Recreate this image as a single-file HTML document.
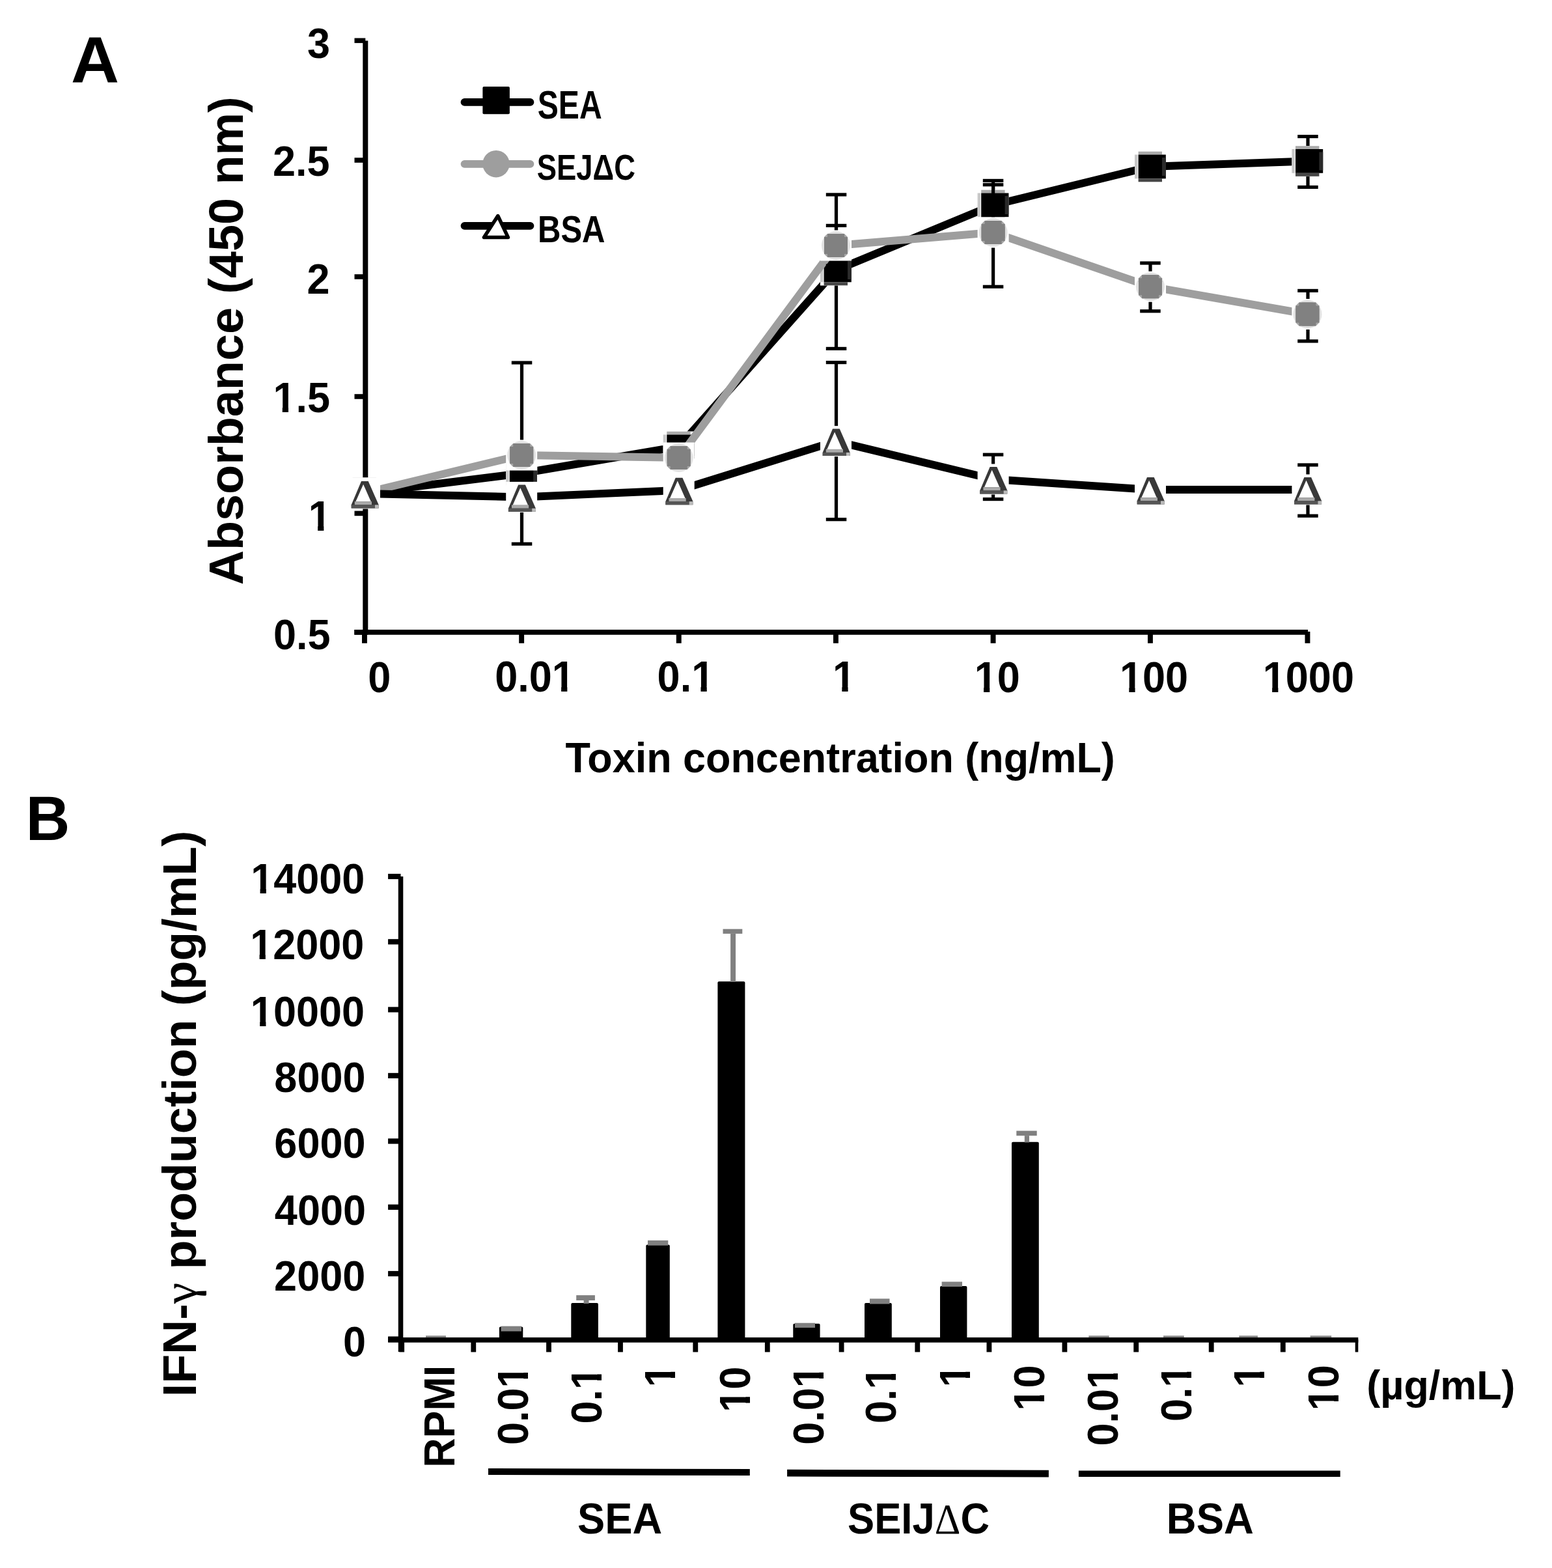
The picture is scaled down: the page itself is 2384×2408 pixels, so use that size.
<!DOCTYPE html>
<html><head><meta charset="utf-8"><title>Figure</title>
<style>html,body{margin:0;padding:0;background:#fff;}svg{display:block;}</style>
</head><body>
<svg width="2384" height="2408" viewBox="0 0 2384 2408">
<rect x="0" y="0" width="2384" height="2408" fill="#fff"/>
<defs><clipPath id="cya15" clipPathUnits="userSpaceOnUse"><path d="M-3000,-3000H3000V3000H-3000Z M-85.05,-7.43H-73.23V1.89H-85.05Z M-63.99,-7.43H-53.24V1.89H-63.99Z" clip-rule="evenodd"/></clipPath><clipPath id="cya1" clipPathUnits="userSpaceOnUse"><path d="M-3000,-3000H3000V3000H-3000Z M-32.51,-7.43H-20.69V1.89H-32.51Z M-11.44,-7.43H-0.69V1.89H-11.44Z" clip-rule="evenodd"/></clipPath><clipPath id="cxa001" clipPathUnits="userSpaceOnUse"><path d="M-3000,-3000H3000V3000H-3000Z M90.09,-7.43H101.91V1.89H90.09Z M111.15,-7.43H121.91V1.89H111.15Z" clip-rule="evenodd"/></clipPath><clipPath id="cxa01" clipPathUnits="userSpaceOnUse"><path d="M-3000,-3000H3000V3000H-3000Z M55.06,-7.43H66.88V1.89H55.06Z M76.13,-7.43H86.88V1.89H76.13Z" clip-rule="evenodd"/></clipPath><clipPath id="cxa1" clipPathUnits="userSpaceOnUse"><path d="M-3000,-3000H3000V3000H-3000Z M2.52,-7.43H14.34V1.89H2.52Z M23.58,-7.43H34.34V1.89H23.58Z" clip-rule="evenodd"/></clipPath><clipPath id="cxa10" clipPathUnits="userSpaceOnUse"><path d="M-3000,-3000H3000V3000H-3000Z M2.52,-7.43H14.34V1.89H2.52Z M23.58,-7.43H34.34V1.89H23.58Z" clip-rule="evenodd"/></clipPath><clipPath id="cxa100" clipPathUnits="userSpaceOnUse"><path d="M-3000,-3000H3000V3000H-3000Z M2.52,-7.43H14.34V1.89H2.52Z M23.58,-7.43H34.34V1.89H23.58Z" clip-rule="evenodd"/></clipPath><clipPath id="cxa1000" clipPathUnits="userSpaceOnUse"><path d="M-3000,-3000H3000V3000H-3000Z M2.52,-7.43H14.34V1.89H2.52Z M23.58,-7.43H34.34V1.89H23.58Z" clip-rule="evenodd"/></clipPath><clipPath id="cyb14" clipPathUnits="userSpaceOnUse"><path d="M-3000,-3000H3000V3000H-3000Z M-172.62,-7.43H-160.80V1.89H-172.62Z M-151.56,-7.43H-140.81V1.89H-151.56Z" clip-rule="evenodd"/></clipPath><clipPath id="cyb12" clipPathUnits="userSpaceOnUse"><path d="M-3000,-3000H3000V3000H-3000Z M-172.62,-7.43H-160.80V1.89H-172.62Z M-151.56,-7.43H-140.81V1.89H-151.56Z" clip-rule="evenodd"/></clipPath><clipPath id="cyb10" clipPathUnits="userSpaceOnUse"><path d="M-3000,-3000H3000V3000H-3000Z M-172.62,-7.43H-160.80V1.89H-172.62Z M-151.56,-7.43H-140.81V1.89H-151.56Z" clip-rule="evenodd"/></clipPath><clipPath id="crlSEA001" clipPathUnits="userSpaceOnUse"><path d="M-3000,-3000H3000V3000H-3000Z M-32.51,-7.43H-20.69V1.89H-32.51Z M-11.44,-7.43H-0.69V1.89H-11.44Z" clip-rule="evenodd"/></clipPath><clipPath id="crlSEA01" clipPathUnits="userSpaceOnUse"><path d="M-3000,-3000H3000V3000H-3000Z M-32.51,-7.43H-20.69V1.89H-32.51Z M-11.44,-7.43H-0.69V1.89H-11.44Z" clip-rule="evenodd"/></clipPath><clipPath id="crlSEA1" clipPathUnits="userSpaceOnUse"><path d="M-3000,-3000H3000V3000H-3000Z M-32.51,-7.43H-20.69V1.89H-32.51Z M-11.44,-7.43H-0.69V1.89H-11.44Z" clip-rule="evenodd"/></clipPath><clipPath id="crlSEA10" clipPathUnits="userSpaceOnUse"><path d="M-3000,-3000H3000V3000H-3000Z M-67.54,-7.43H-55.71V1.89H-67.54Z M-46.47,-7.43H-35.72V1.89H-46.47Z" clip-rule="evenodd"/></clipPath><clipPath id="crlSEI001" clipPathUnits="userSpaceOnUse"><path d="M-3000,-3000H3000V3000H-3000Z M-32.51,-7.43H-20.69V1.89H-32.51Z M-11.44,-7.43H-0.69V1.89H-11.44Z" clip-rule="evenodd"/></clipPath><clipPath id="crlSEI01" clipPathUnits="userSpaceOnUse"><path d="M-3000,-3000H3000V3000H-3000Z M-32.51,-7.43H-20.69V1.89H-32.51Z M-11.44,-7.43H-0.69V1.89H-11.44Z" clip-rule="evenodd"/></clipPath><clipPath id="crlSEI1" clipPathUnits="userSpaceOnUse"><path d="M-3000,-3000H3000V3000H-3000Z M-32.51,-7.43H-20.69V1.89H-32.51Z M-11.44,-7.43H-0.69V1.89H-11.44Z" clip-rule="evenodd"/></clipPath><clipPath id="crlSEI10" clipPathUnits="userSpaceOnUse"><path d="M-3000,-3000H3000V3000H-3000Z M-67.54,-7.43H-55.71V1.89H-67.54Z M-46.47,-7.43H-35.72V1.89H-46.47Z" clip-rule="evenodd"/></clipPath><clipPath id="crlBSA001" clipPathUnits="userSpaceOnUse"><path d="M-3000,-3000H3000V3000H-3000Z M-32.51,-7.43H-20.69V1.89H-32.51Z M-11.44,-7.43H-0.69V1.89H-11.44Z" clip-rule="evenodd"/></clipPath><clipPath id="crlBSA01" clipPathUnits="userSpaceOnUse"><path d="M-3000,-3000H3000V3000H-3000Z M-32.51,-7.43H-20.69V1.89H-32.51Z M-11.44,-7.43H-0.69V1.89H-11.44Z" clip-rule="evenodd"/></clipPath><clipPath id="crlBSA1" clipPathUnits="userSpaceOnUse"><path d="M-3000,-3000H3000V3000H-3000Z M-32.51,-7.43H-20.69V1.89H-32.51Z M-11.44,-7.43H-0.69V1.89H-11.44Z" clip-rule="evenodd"/></clipPath><clipPath id="crlBSA10" clipPathUnits="userSpaceOnUse"><path d="M-3000,-3000H3000V3000H-3000Z M-67.54,-7.43H-55.71V1.89H-67.54Z M-46.47,-7.43H-35.72V1.89H-46.47Z" clip-rule="evenodd"/></clipPath></defs>
<rect x="557.3" y="62.5" width="8.0" height="912.5" fill="#000"/>
<rect x="544.5" y="58.5" width="16.8" height="7.6" fill="#000"/>
<rect x="544.5" y="242.2" width="16.8" height="7.6" fill="#000"/>
<rect x="544.5" y="421.2" width="16.8" height="7.6" fill="#000"/>
<rect x="544.5" y="605.2" width="16.8" height="7.6" fill="#000"/>
<rect x="544.5" y="784.6" width="16.8" height="7.6" fill="#000"/>
<rect x="544.5" y="967.2" width="16.8" height="7.6" fill="#000"/>
<rect x="544.3" y="967.0" width="1464.7" height="7.8" fill="#000"/>
<rect x="556.0" y="970.0" width="7.9" height="17.8" fill="#000"/>
<rect x="797.2" y="970.0" width="7.9" height="17.8" fill="#000"/>
<rect x="1038.8" y="970.0" width="7.9" height="17.8" fill="#000"/>
<rect x="1280.0" y="970.0" width="7.9" height="17.8" fill="#000"/>
<rect x="1521.6" y="970.0" width="7.9" height="17.8" fill="#000"/>
<rect x="1763.0" y="970.0" width="7.9" height="17.8" fill="#000"/>
<rect x="2004.5" y="970.0" width="7.9" height="17.8" fill="#000"/>
<polyline points="560.0,757.0 801.2,727.0 1042.7,686.0 1284.0,415.0 1525.6,315.0 1767.0,256.0 2008.4,247.5" fill="none" stroke="#000" stroke-width="12" stroke-linejoin="round"/>
<rect x="1281.9" y="298.9" width="5.2" height="236.5" fill="#000"/>
<rect x="1268.8" y="296.3" width="31.5" height="5.2" fill="#000"/>
<rect x="1268.8" y="532.8" width="31.5" height="5.2" fill="#000"/>
<rect x="1523.0" y="277.4" width="5.2" height="75.2" fill="#000"/>
<rect x="1509.8" y="274.8" width="31.5" height="5.2" fill="#000"/>
<rect x="1509.8" y="350.0" width="31.5" height="5.2" fill="#000"/>
<rect x="2006.4" y="209.6" width="5.2" height="77.8" fill="#000"/>
<rect x="1993.2" y="207.0" width="31.5" height="5.2" fill="#000"/>
<rect x="1993.2" y="284.8" width="31.5" height="5.2" fill="#000"/>
<rect x="536.0" y="733.5" width="48.0" height="47.0" fill="#fff"/>
<rect x="541.6" y="733.7" width="36.4" height="4.8" fill="#ababab"/>
<rect x="536.0" y="738.5" width="4.5" height="36.8" fill="#c8c8c8"/>
<rect x="541.6" y="738.5" width="42.2" height="36.8" fill="#000"/>
<rect x="578.0" y="743.0" width="5.8" height="28.0" fill="#2a2a2a"/>
<rect x="541.6" y="775.3" width="36.4" height="5.0" fill="#474747"/>
<rect x="777.2" y="703.5" width="48.0" height="47.0" fill="#fff"/>
<rect x="782.8" y="703.7" width="36.4" height="4.8" fill="#ababab"/>
<rect x="777.2" y="708.5" width="4.5" height="36.8" fill="#c8c8c8"/>
<rect x="782.8" y="708.5" width="42.2" height="36.8" fill="#000"/>
<rect x="819.2" y="713.0" width="5.8" height="28.0" fill="#2a2a2a"/>
<rect x="782.8" y="745.3" width="36.4" height="5.0" fill="#474747"/>
<rect x="1018.7" y="662.5" width="48.0" height="47.0" fill="#fff"/>
<rect x="1024.3" y="662.7" width="36.4" height="4.8" fill="#ababab"/>
<rect x="1018.7" y="667.5" width="4.5" height="36.8" fill="#c8c8c8"/>
<rect x="1024.3" y="667.5" width="42.2" height="36.8" fill="#000"/>
<rect x="1060.7" y="672.0" width="5.8" height="28.0" fill="#2a2a2a"/>
<rect x="1024.3" y="704.3" width="36.4" height="5.0" fill="#474747"/>
<rect x="1260.0" y="391.5" width="48.0" height="47.0" fill="#fff"/>
<rect x="1265.6" y="391.7" width="36.4" height="4.8" fill="#ababab"/>
<rect x="1260.0" y="396.5" width="4.5" height="36.8" fill="#c8c8c8"/>
<rect x="1265.6" y="396.5" width="42.2" height="36.8" fill="#000"/>
<rect x="1302.0" y="401.0" width="5.8" height="28.0" fill="#2a2a2a"/>
<rect x="1265.6" y="433.3" width="36.4" height="5.0" fill="#474747"/>
<rect x="1501.6" y="291.5" width="48.0" height="47.0" fill="#fff"/>
<rect x="1507.2" y="291.7" width="36.4" height="4.8" fill="#ababab"/>
<rect x="1501.6" y="296.5" width="4.5" height="36.8" fill="#c8c8c8"/>
<rect x="1507.2" y="296.5" width="42.2" height="36.8" fill="#000"/>
<rect x="1543.6" y="301.0" width="5.8" height="28.0" fill="#2a2a2a"/>
<rect x="1507.2" y="333.3" width="36.4" height="5.0" fill="#474747"/>
<rect x="1743.0" y="232.5" width="48.0" height="47.0" fill="#fff"/>
<rect x="1748.6" y="232.7" width="36.4" height="4.8" fill="#ababab"/>
<rect x="1743.0" y="237.5" width="4.5" height="36.8" fill="#c8c8c8"/>
<rect x="1748.6" y="237.5" width="42.2" height="36.8" fill="#000"/>
<rect x="1785.0" y="242.0" width="5.8" height="28.0" fill="#2a2a2a"/>
<rect x="1748.6" y="274.3" width="36.4" height="5.0" fill="#474747"/>
<rect x="1984.4" y="224.0" width="48.0" height="47.0" fill="#fff"/>
<rect x="1990.0" y="224.2" width="36.4" height="4.8" fill="#ababab"/>
<rect x="1984.4" y="229.0" width="4.5" height="36.8" fill="#c8c8c8"/>
<rect x="1990.0" y="229.0" width="42.2" height="36.8" fill="#000"/>
<rect x="2026.4" y="233.5" width="5.8" height="28.0" fill="#2a2a2a"/>
<rect x="1990.0" y="265.8" width="36.4" height="5.0" fill="#474747"/>
<polyline points="560.0,757.0 801.2,699.0 1042.7,703.0 1284.0,377.0 1525.6,357.0 1767.0,440.2 2008.4,482.5" fill="none" stroke="#9e9e9e" stroke-width="12" stroke-linejoin="round"/>
<rect x="798.9" y="557.0" width="5.2" height="278.3" fill="#000"/>
<rect x="785.8" y="554.4" width="31.5" height="5.2" fill="#000"/>
<rect x="785.8" y="832.7" width="31.5" height="5.2" fill="#000"/>
<rect x="1281.9" y="346.4" width="5.2" height="61.6" fill="#000"/>
<rect x="1268.8" y="343.8" width="31.5" height="5.2" fill="#000"/>
<rect x="1268.8" y="405.4" width="31.5" height="5.2" fill="#000"/>
<rect x="1523.0" y="283.7" width="5.2" height="156.6" fill="#000"/>
<rect x="1509.8" y="281.1" width="31.5" height="5.2" fill="#000"/>
<rect x="1509.8" y="437.7" width="31.5" height="5.2" fill="#000"/>
<rect x="1764.4" y="404.0" width="5.2" height="73.8" fill="#000"/>
<rect x="1751.2" y="401.4" width="31.5" height="5.2" fill="#000"/>
<rect x="1751.2" y="475.2" width="31.5" height="5.2" fill="#000"/>
<rect x="2006.4" y="446.4" width="5.2" height="77.5" fill="#000"/>
<rect x="1993.2" y="443.8" width="31.5" height="5.2" fill="#000"/>
<rect x="1993.2" y="521.3" width="31.5" height="5.2" fill="#000"/>
<rect x="536.0" y="733.5" width="48.0" height="47.0" fill="#fff"/>
<circle cx="560.0" cy="757.0" r="22" fill="#e2e2e2"/>
<polygon points="547.0,739.0 573.0,739.0 578.0,744.0 578.0,770.0 573.0,775.0 547.0,775.0 542.0,770.0 542.0,744.0" fill="#a6a6a6"/>
<polygon points="552.0,739.0 568.0,739.0 573.0,744.0 578.0,749.0 578.0,765.0 573.0,770.0 568.0,775.0 552.0,775.0 547.0,770.0 542.0,765.0 542.0,749.0 547.0,744.0" fill="#818181"/>
<rect x="547.0" y="739.0" width="26" height="36" fill="#818181"/>
<rect x="542.0" y="744.0" width="36" height="26" fill="#818181"/>
<rect x="777.2" y="675.5" width="48.0" height="47.0" fill="#fff"/>
<circle cx="801.2" cy="699.0" r="22" fill="#e2e2e2"/>
<polygon points="788.2,681.0 814.2,681.0 819.2,686.0 819.2,712.0 814.2,717.0 788.2,717.0 783.2,712.0 783.2,686.0" fill="#a6a6a6"/>
<polygon points="793.2,681.0 809.2,681.0 814.2,686.0 819.2,691.0 819.2,707.0 814.2,712.0 809.2,717.0 793.2,717.0 788.2,712.0 783.2,707.0 783.2,691.0 788.2,686.0" fill="#818181"/>
<rect x="788.2" y="681.0" width="26" height="36" fill="#818181"/>
<rect x="783.2" y="686.0" width="36" height="26" fill="#818181"/>
<rect x="1018.7" y="679.5" width="48.0" height="47.0" fill="#fff"/>
<circle cx="1042.7" cy="703.0" r="22" fill="#e2e2e2"/>
<polygon points="1029.7,685.0 1055.7,685.0 1060.7,690.0 1060.7,716.0 1055.7,721.0 1029.7,721.0 1024.7,716.0 1024.7,690.0" fill="#a6a6a6"/>
<polygon points="1034.7,685.0 1050.7,685.0 1055.7,690.0 1060.7,695.0 1060.7,711.0 1055.7,716.0 1050.7,721.0 1034.7,721.0 1029.7,716.0 1024.7,711.0 1024.7,695.0 1029.7,690.0" fill="#818181"/>
<rect x="1029.7" y="685.0" width="26" height="36" fill="#818181"/>
<rect x="1024.7" y="690.0" width="36" height="26" fill="#818181"/>
<rect x="1260.0" y="353.5" width="48.0" height="47.0" fill="#fff"/>
<circle cx="1284.0" cy="377.0" r="22" fill="#e2e2e2"/>
<polygon points="1271.0,359.0 1297.0,359.0 1302.0,364.0 1302.0,390.0 1297.0,395.0 1271.0,395.0 1266.0,390.0 1266.0,364.0" fill="#a6a6a6"/>
<polygon points="1276.0,359.0 1292.0,359.0 1297.0,364.0 1302.0,369.0 1302.0,385.0 1297.0,390.0 1292.0,395.0 1276.0,395.0 1271.0,390.0 1266.0,385.0 1266.0,369.0 1271.0,364.0" fill="#818181"/>
<rect x="1271.0" y="359.0" width="26" height="36" fill="#818181"/>
<rect x="1266.0" y="364.0" width="36" height="26" fill="#818181"/>
<rect x="1501.6" y="333.5" width="48.0" height="47.0" fill="#fff"/>
<circle cx="1525.6" cy="357.0" r="22" fill="#e2e2e2"/>
<polygon points="1512.6,339.0 1538.6,339.0 1543.6,344.0 1543.6,370.0 1538.6,375.0 1512.6,375.0 1507.6,370.0 1507.6,344.0" fill="#a6a6a6"/>
<polygon points="1517.6,339.0 1533.6,339.0 1538.6,344.0 1543.6,349.0 1543.6,365.0 1538.6,370.0 1533.6,375.0 1517.6,375.0 1512.6,370.0 1507.6,365.0 1507.6,349.0 1512.6,344.0" fill="#818181"/>
<rect x="1512.6" y="339.0" width="26" height="36" fill="#818181"/>
<rect x="1507.6" y="344.0" width="36" height="26" fill="#818181"/>
<rect x="1743.0" y="416.7" width="48.0" height="47.0" fill="#fff"/>
<circle cx="1767.0" cy="440.2" r="22" fill="#e2e2e2"/>
<polygon points="1754.0,422.2 1780.0,422.2 1785.0,427.2 1785.0,453.2 1780.0,458.2 1754.0,458.2 1749.0,453.2 1749.0,427.2" fill="#a6a6a6"/>
<polygon points="1759.0,422.2 1775.0,422.2 1780.0,427.2 1785.0,432.2 1785.0,448.2 1780.0,453.2 1775.0,458.2 1759.0,458.2 1754.0,453.2 1749.0,448.2 1749.0,432.2 1754.0,427.2" fill="#818181"/>
<rect x="1754.0" y="422.2" width="26" height="36" fill="#818181"/>
<rect x="1749.0" y="427.2" width="36" height="26" fill="#818181"/>
<rect x="1984.4" y="459.0" width="48.0" height="47.0" fill="#fff"/>
<circle cx="2008.4" cy="482.5" r="22" fill="#e2e2e2"/>
<polygon points="1995.4,464.5 2021.4,464.5 2026.4,469.5 2026.4,495.5 2021.4,500.5 1995.4,500.5 1990.4,495.5 1990.4,469.5" fill="#a6a6a6"/>
<polygon points="2000.4,464.5 2016.4,464.5 2021.4,469.5 2026.4,474.5 2026.4,490.5 2021.4,495.5 2016.4,500.5 2000.4,500.5 1995.4,495.5 1990.4,490.5 1990.4,474.5 1995.4,469.5" fill="#818181"/>
<rect x="1995.4" y="464.5" width="26" height="36" fill="#818181"/>
<rect x="1990.4" y="469.5" width="36" height="26" fill="#818181"/>
<polyline points="560.0,758.0 801.2,763.4 1042.7,752.8 1284.0,677.6 1525.6,736.0 1767.0,752.0 2008.4,752.0" fill="none" stroke="#000" stroke-width="12" stroke-linejoin="round"/>
<rect x="1281.9" y="556.6" width="5.2" height="241.1" fill="#000"/>
<rect x="1268.8" y="554.0" width="31.5" height="5.2" fill="#000"/>
<rect x="1268.8" y="795.1" width="31.5" height="5.2" fill="#000"/>
<rect x="1523.0" y="698.2" width="5.2" height="68.4" fill="#000"/>
<rect x="1509.8" y="695.6" width="31.5" height="5.2" fill="#000"/>
<rect x="1509.8" y="764.0" width="31.5" height="5.2" fill="#000"/>
<rect x="2006.4" y="714.0" width="5.2" height="78.2" fill="#000"/>
<rect x="1993.2" y="711.4" width="31.5" height="5.2" fill="#000"/>
<rect x="1993.2" y="789.6" width="31.5" height="5.2" fill="#000"/>
<rect x="536.0" y="734.5" width="48.0" height="47.0" fill="#fff"/>
<polygon points="555.0,739.0 565.7,739.0 581.7,775.3 581.7,780.4 539.7,780.4 539.7,775.3" fill="#383838"/>
<polygon points="558.1,743.8 546.4,770.3 569.8,770.3" fill="#fff"/>
<rect x="544.8" y="770.2" width="26.2" height="5.1" fill="#aaa"/>
<rect x="539.7" y="775.3" width="36.3" height="5.1" fill="#555"/>
<rect x="576.0" y="775.3" width="5.7" height="5.1" fill="#bbb"/>
<rect x="777.2" y="739.9" width="48.0" height="47.0" fill="#fff"/>
<polygon points="796.2,744.4 806.9,744.4 822.9,780.7 822.9,785.8 780.9,785.8 780.9,780.7" fill="#383838"/>
<polygon points="799.3,749.2 787.6,775.7 811.0,775.7" fill="#fff"/>
<rect x="786.0" y="775.6" width="26.2" height="5.1" fill="#aaa"/>
<rect x="780.9" y="780.7" width="36.3" height="5.1" fill="#555"/>
<rect x="817.2" y="780.7" width="5.7" height="5.1" fill="#bbb"/>
<rect x="1018.7" y="729.3" width="48.0" height="47.0" fill="#fff"/>
<polygon points="1037.7,733.8 1048.4,733.8 1064.4,770.1 1064.4,775.2 1022.4,775.2 1022.4,770.1" fill="#383838"/>
<polygon points="1040.8,738.6 1029.1,765.1 1052.5,765.1" fill="#fff"/>
<rect x="1027.5" y="765.0" width="26.2" height="5.1" fill="#aaa"/>
<rect x="1022.4" y="770.1" width="36.3" height="5.1" fill="#555"/>
<rect x="1058.7" y="770.1" width="5.7" height="5.1" fill="#bbb"/>
<rect x="1260.0" y="654.1" width="48.0" height="47.0" fill="#fff"/>
<polygon points="1279.0,658.6 1289.7,658.6 1305.7,694.9 1305.7,700.0 1263.7,700.0 1263.7,694.9" fill="#383838"/>
<polygon points="1282.1,663.4 1270.4,689.9 1293.8,689.9" fill="#fff"/>
<rect x="1268.8" y="689.8" width="26.2" height="5.1" fill="#aaa"/>
<rect x="1263.7" y="694.9" width="36.3" height="5.1" fill="#555"/>
<rect x="1300.0" y="694.9" width="5.7" height="5.1" fill="#bbb"/>
<rect x="1501.6" y="712.5" width="48.0" height="47.0" fill="#fff"/>
<polygon points="1520.6,717.0 1531.3,717.0 1547.3,753.3 1547.3,758.4 1505.3,758.4 1505.3,753.3" fill="#383838"/>
<polygon points="1523.7,721.8 1512.0,748.3 1535.4,748.3" fill="#fff"/>
<rect x="1510.4" y="748.2" width="26.2" height="5.1" fill="#aaa"/>
<rect x="1505.3" y="753.3" width="36.3" height="5.1" fill="#555"/>
<rect x="1541.6" y="753.3" width="5.7" height="5.1" fill="#bbb"/>
<rect x="1743.0" y="728.5" width="48.0" height="47.0" fill="#fff"/>
<polygon points="1762.0,733.0 1772.7,733.0 1788.7,769.3 1788.7,774.4 1746.7,774.4 1746.7,769.3" fill="#383838"/>
<polygon points="1765.1,737.8 1753.4,764.3 1776.8,764.3" fill="#fff"/>
<rect x="1751.8" y="764.2" width="26.2" height="5.1" fill="#aaa"/>
<rect x="1746.7" y="769.3" width="36.3" height="5.1" fill="#555"/>
<rect x="1783.0" y="769.3" width="5.7" height="5.1" fill="#bbb"/>
<rect x="1984.4" y="728.5" width="48.0" height="47.0" fill="#fff"/>
<polygon points="2003.4,733.0 2014.1,733.0 2030.1,769.3 2030.1,774.4 1988.1,774.4 1988.1,769.3" fill="#383838"/>
<polygon points="2006.5,737.8 1994.8,764.3 2018.2,764.3" fill="#fff"/>
<rect x="1993.2" y="764.2" width="26.2" height="5.1" fill="#aaa"/>
<rect x="1988.1" y="769.3" width="36.3" height="5.1" fill="#555"/>
<rect x="2024.4" y="769.3" width="5.7" height="5.1" fill="#bbb"/>
<line x1="713.5" y1="156.9" x2="814.5" y2="156.9" stroke="#000" stroke-width="11.7" stroke-linecap="round"/>
<rect x="741.4" y="133.1" width="41.5" height="42.2" fill="#000" rx="2"/>
<line x1="713.5" y1="251.8" x2="814.5" y2="251.8" stroke="#9e9e9e" stroke-width="11.7" stroke-linecap="round"/>
<circle cx="762" cy="251.7" r="20.7" fill="#9e9e9e"/>
<line x1="713.5" y1="346.8" x2="814.5" y2="346.8" stroke="#000" stroke-width="11.7" stroke-linecap="round"/>
<polygon points="764.8,331.5 743.5,364.6 780.5,364.6" fill="#fff" stroke="#000" stroke-width="5.5" stroke-linejoin="round"/>
<rect x="611.8" y="1346.0" width="7.5" height="730.0" fill="#000"/>
<rect x="596.1" y="1341.9" width="19.4" height="8.2" fill="#000"/>
<rect x="596.1" y="1442.2" width="19.4" height="8.2" fill="#000"/>
<rect x="596.1" y="1546.4" width="19.4" height="8.2" fill="#000"/>
<rect x="596.1" y="1647.8" width="19.4" height="8.2" fill="#000"/>
<rect x="596.1" y="1748.4" width="19.4" height="8.2" fill="#000"/>
<rect x="596.1" y="1849.7" width="19.4" height="8.2" fill="#000"/>
<rect x="596.1" y="1951.9" width="19.4" height="8.2" fill="#000"/>
<rect x="596.1" y="2052.4" width="19.4" height="8.2" fill="#000"/>
<rect x="596.1" y="2053.9" width="1490.2" height="7.8" fill="#000"/>
<rect x="613.3" y="2057.0" width="7.8" height="19.4" fill="#000"/>
<rect x="723.4" y="2057.0" width="7.8" height="19.4" fill="#000"/>
<rect x="839.1" y="2057.0" width="7.8" height="19.4" fill="#000"/>
<rect x="949.1" y="2057.0" width="7.8" height="19.4" fill="#000"/>
<rect x="1064.4" y="2057.0" width="7.8" height="19.4" fill="#000"/>
<rect x="1174.9" y="2057.0" width="7.8" height="19.4" fill="#000"/>
<rect x="1288.7" y="2057.0" width="7.8" height="19.4" fill="#000"/>
<rect x="1405.4" y="2057.0" width="7.8" height="19.4" fill="#000"/>
<rect x="1515.5" y="2057.0" width="7.8" height="19.4" fill="#000"/>
<rect x="1631.5" y="2057.0" width="7.8" height="19.4" fill="#000"/>
<rect x="1741.3" y="2057.0" width="7.8" height="19.4" fill="#000"/>
<rect x="1856.8" y="2057.0" width="7.8" height="19.4" fill="#000"/>
<rect x="1966.9" y="2057.0" width="7.8" height="19.4" fill="#000"/>
<rect x="2081.7" y="2057.0" width="4.6" height="19.4" fill="#000"/>
<path d="M766.9,2058 V2039.4 Q766.9,2037.4 768.9,2037.4 H801.3 Q803.3,2037.4 803.3,2039.4 V2058 Z" fill="#000"/>
<path d="M877.3,2058 V2003 Q877.3,2001 879.3,2001 H916.9 Q918.9,2001 918.9,2003 V2058 Z" fill="#000"/>
<path d="M992.3,2058 V1913.5 Q992.3,1911.5 994.3,1911.5 H1026.8 Q1028.8,1911.5 1028.8,1913.5 V2058 Z" fill="#000"/>
<path d="M1102.4,2058 V1509.3 Q1102.4,1507.3 1104.4,1507.3 H1142.4 Q1144.4,1507.3 1144.4,1509.3 V2058 Z" fill="#000"/>
<path d="M1218.3,2058 V2034.8 Q1218.3,2032.8 1220.3,2032.8 H1257.6 Q1259.6,2032.8 1259.6,2034.8 V2058 Z" fill="#000"/>
<path d="M1328,2058 V2003 Q1328,2001 1330,2001 H1367.8 Q1369.8,2001 1369.8,2003 V2058 Z" fill="#000"/>
<path d="M1444,2058 V1977 Q1444,1975 1446,1975 H1483.4 Q1485.4,1975 1485.4,1977 V2058 Z" fill="#000"/>
<path d="M1554,2058 V1755.8 Q1554,1753.8 1556,1753.8 H1593.8 Q1595.8,1753.8 1595.8,1755.8 V2058 Z" fill="#000"/>
<rect x="769.6" y="2036.6" width="31.4" height="7.9" fill="#808080"/>
<rect x="885.2" y="1989.1" width="28.7" height="7.9" fill="#808080"/>
<rect x="896.6" y="1997.0" width="7.9" height="5.0" fill="#808080"/>
<rect x="995.0" y="1904.9" width="31.3" height="7.8" fill="#808080"/>
<rect x="1110.5" y="1426.7" width="29.8" height="7.2" fill="#808080"/>
<rect x="1122.1" y="1433.9" width="7.9" height="74.1" fill="#808080"/>
<rect x="1221.0" y="2031.7" width="31.0" height="7.3" fill="#808080"/>
<rect x="1336.0" y="1994.4" width="30.5" height="8.1" fill="#808080"/>
<rect x="1446.6" y="1968.4" width="31.4" height="7.6" fill="#808080"/>
<rect x="1561.3" y="1736.6" width="31.4" height="7.5" fill="#808080"/>
<rect x="1573.8" y="1744.1" width="7.2" height="10.4" fill="#808080"/>
<rect x="654.0" y="2051.2" width="31.0" height="2.8" fill="#888"/>
<rect x="1672.3" y="2051.2" width="31.4" height="2.8" fill="#888"/>
<rect x="1787.0" y="2051.2" width="31.8" height="2.8" fill="#888"/>
<rect x="1903.3" y="2051.2" width="28.7" height="2.8" fill="#888"/>
<rect x="2012.6" y="2051.2" width="32.6" height="2.8" fill="#888"/>
<polygon points="750,2255 1151.8,2256 1151.8,2266 750,2265" fill="#000"/>
<polygon points="1209.1,2256.8 1610.9,2257.8 1610.9,2268.5 1209.1,2267.5" fill="#000"/>
<polygon points="1656.9,2258.4 2058.7,2258.4 2058.7,2268 1656.9,2268" fill="#000"/>
<text transform="translate(108.96,127.00) scale(1.0000,0.9853)" font-family="'Liberation Sans', Arial, sans-serif" font-weight="bold" font-size="102.51" text-anchor="start">A</text>
<text transform="translate(507.00,89.40) scale(1.0000,1.0231)" font-family="'Liberation Sans', Arial, sans-serif" font-weight="bold" font-size="63.00" text-anchor="end">3</text>
<text transform="translate(506.50,270.40) scale(1.0000,1.0231)" font-family="'Liberation Sans', Arial, sans-serif" font-weight="bold" font-size="63.00" text-anchor="end">2.5</text>
<text transform="translate(506.65,451.20) scale(1.0000,1.0231)" font-family="'Liberation Sans', Arial, sans-serif" font-weight="bold" font-size="63.00" text-anchor="end">2</text>
<text transform="translate(507.00,632.80) scale(1.0000,1.0231)" font-family="'Liberation Sans', Arial, sans-serif" font-weight="bold" font-size="63.00" text-anchor="end" clip-path="url(#cya15)">1.5</text>
<text transform="translate(508.80,814.80) scale(1.0000,1.0231)" font-family="'Liberation Sans', Arial, sans-serif" font-weight="bold" font-size="63.00" text-anchor="end" clip-path="url(#cya1)">1</text>
<text transform="translate(507.60,997.00) scale(1.0000,1.0231)" font-family="'Liberation Sans', Arial, sans-serif" font-weight="bold" font-size="63.00" text-anchor="end">0.5</text>
<text transform="translate(565.20,1062.80) scale(1.0000,1.0583)" font-family="'Liberation Sans', Arial, sans-serif" font-weight="bold" font-size="63.00" text-anchor="start">0</text>
<text transform="translate(760.20,1062.20) scale(1.0000,1.0583)" font-family="'Liberation Sans', Arial, sans-serif" font-weight="bold" font-size="63.00" text-anchor="start" clip-path="url(#cxa001)">0.01</text>
<text transform="translate(1009.60,1062.20) scale(1.0000,1.0583)" font-family="'Liberation Sans', Arial, sans-serif" font-weight="bold" font-size="63.00" text-anchor="start" clip-path="url(#cxa01)">0.1</text>
<text transform="translate(1279.00,1062.00) scale(1.0000,1.0583)" font-family="'Liberation Sans', Arial, sans-serif" font-weight="bold" font-size="63.00" text-anchor="start" clip-path="url(#cxa1)">1</text>
<text transform="translate(1496.70,1063.00) scale(1.0000,1.0583)" font-family="'Liberation Sans', Arial, sans-serif" font-weight="bold" font-size="63.00" text-anchor="start" clip-path="url(#cxa10)">10</text>
<text transform="translate(1720.00,1063.00) scale(1.0000,1.0583)" font-family="'Liberation Sans', Arial, sans-serif" font-weight="bold" font-size="63.00" text-anchor="start" clip-path="url(#cxa100)">100</text>
<text transform="translate(1939.80,1063.00) scale(1.0000,1.0583)" font-family="'Liberation Sans', Arial, sans-serif" font-weight="bold" font-size="63.00" text-anchor="start" clip-path="url(#cxa1000)">1000</text>
<text transform="translate(868.60,1185.50) scale(1.0000,1.0260)" font-family="'Liberation Sans', Arial, sans-serif" font-weight="bold" font-size="62.89" text-anchor="start">Toxin concentration (ng/mL)</text>
<text transform="translate(372.90,898.19) rotate(-90) scale(1.0000,0.9980)" font-family="'Liberation Sans', Arial, sans-serif" font-weight="bold" font-size="73.75" text-anchor="start">Absorbance (450 nm)</text>
<text transform="translate(825.74,181.60) scale(0.8306,1.0378)" font-family="'Liberation Sans', Arial, sans-serif" font-weight="bold" font-size="58.00" text-anchor="start">SEA</text>
<text transform="translate(824.86,276.00) scale(0.7823,0.9637)" font-family="'Liberation Sans', Arial, sans-serif" font-weight="bold" font-size="58.00" text-anchor="start">SEJΔC</text>
<text transform="translate(825.95,371.80) scale(0.8462,0.9752)" font-family="'Liberation Sans', Arial, sans-serif" font-weight="bold" font-size="58.00" text-anchor="start">BSA</text>
<text transform="translate(39.73,1289.60) scale(1.0000,1.0252)" font-family="'Liberation Sans', Arial, sans-serif" font-weight="bold" font-size="93.58" text-anchor="start">B</text>
<text transform="translate(560.40,1372.00) scale(1.0000,1.0417)" font-family="'Liberation Sans', Arial, sans-serif" font-weight="bold" font-size="63.00" text-anchor="end" clip-path="url(#cyb14)">14000</text>
<text transform="translate(559.40,1473.20) scale(1.0000,1.0417)" font-family="'Liberation Sans', Arial, sans-serif" font-weight="bold" font-size="63.00" text-anchor="end" clip-path="url(#cyb12)">12000</text>
<text transform="translate(560.00,1575.80) scale(1.0000,1.0417)" font-family="'Liberation Sans', Arial, sans-serif" font-weight="bold" font-size="63.00" text-anchor="end" clip-path="url(#cyb10)">10000</text>
<text transform="translate(561.50,1677.00) scale(1.0000,1.0417)" font-family="'Liberation Sans', Arial, sans-serif" font-weight="bold" font-size="63.00" text-anchor="end">8000</text>
<text transform="translate(561.50,1777.60) scale(1.0000,1.0417)" font-family="'Liberation Sans', Arial, sans-serif" font-weight="bold" font-size="63.00" text-anchor="end">6000</text>
<text transform="translate(562.00,1880.60) scale(1.0000,1.0417)" font-family="'Liberation Sans', Arial, sans-serif" font-weight="bold" font-size="63.00" text-anchor="end">4000</text>
<text transform="translate(561.25,1981.80) scale(1.0000,1.0417)" font-family="'Liberation Sans', Arial, sans-serif" font-weight="bold" font-size="63.00" text-anchor="end">2000</text>
<text transform="translate(562.00,2083.00) scale(1.0000,1.0417)" font-family="'Liberation Sans', Arial, sans-serif" font-weight="bold" font-size="63.00" text-anchor="end">0</text>
<text transform="translate(698.40,2096.81) rotate(-90) scale(0.9966,1.0695)" font-family="'Liberation Sans', Arial, sans-serif" font-weight="bold" font-size="63.00" text-anchor="end">RPMI</text>
<text transform="translate(811.00,2096.50) rotate(-90) scale(1.0000,1.0695)" font-family="'Liberation Sans', Arial, sans-serif" font-weight="bold" font-size="63.00" text-anchor="end" clip-path="url(#crlSEA001)">0.01</text>
<text transform="translate(924.00,2099.00) rotate(-90) scale(1.0000,1.0695)" font-family="'Liberation Sans', Arial, sans-serif" font-weight="bold" font-size="63.00" text-anchor="end" clip-path="url(#crlSEA01)">0.1</text>
<text transform="translate(1037.20,2095.20) rotate(-90) scale(1.0000,1.0695)" font-family="'Liberation Sans', Arial, sans-serif" font-weight="bold" font-size="63.00" text-anchor="end" clip-path="url(#crlSEA1)">1</text>
<text transform="translate(1151.80,2098.80) rotate(-90) scale(1.0000,1.0695)" font-family="'Liberation Sans', Arial, sans-serif" font-weight="bold" font-size="63.00" text-anchor="end" clip-path="url(#crlSEA10)">10</text>
<text transform="translate(1264.80,2096.20) rotate(-90) scale(1.0000,1.0695)" font-family="'Liberation Sans', Arial, sans-serif" font-weight="bold" font-size="63.00" text-anchor="end" clip-path="url(#crlSEI001)">0.01</text>
<text transform="translate(1376.20,2098.50) rotate(-90) scale(1.0000,1.0695)" font-family="'Liberation Sans', Arial, sans-serif" font-weight="bold" font-size="63.00" text-anchor="end" clip-path="url(#crlSEI01)">0.1</text>
<text transform="translate(1489.80,2095.20) rotate(-90) scale(1.0000,1.0695)" font-family="'Liberation Sans', Arial, sans-serif" font-weight="bold" font-size="63.00" text-anchor="end" clip-path="url(#crlSEI1)">1</text>
<text transform="translate(1603.60,2096.40) rotate(-90) scale(1.0000,1.0695)" font-family="'Liberation Sans', Arial, sans-serif" font-weight="bold" font-size="63.00" text-anchor="end" clip-path="url(#crlSEI10)">10</text>
<text transform="translate(1717.20,2097.90) rotate(-90) scale(1.0000,1.0695)" font-family="'Liberation Sans', Arial, sans-serif" font-weight="bold" font-size="63.00" text-anchor="end" clip-path="url(#crlBSA001)">0.01</text>
<text transform="translate(1829.60,2095.40) rotate(-90) scale(1.0000,1.0695)" font-family="'Liberation Sans', Arial, sans-serif" font-weight="bold" font-size="63.00" text-anchor="end" clip-path="url(#crlBSA01)">0.1</text>
<text transform="translate(1942.40,2095.40) rotate(-90) scale(1.0000,1.0695)" font-family="'Liberation Sans', Arial, sans-serif" font-weight="bold" font-size="63.00" text-anchor="end" clip-path="url(#crlBSA1)">1</text>
<text transform="translate(2056.00,2096.20) rotate(-90) scale(1.0000,1.0695)" font-family="'Liberation Sans', Arial, sans-serif" font-weight="bold" font-size="63.00" text-anchor="end" clip-path="url(#crlBSA10)">10</text>
<text transform="translate(2099.34,2148.80) scale(1.0138,1.0067)" font-family="'Liberation Sans', Arial, sans-serif" font-weight="bold" font-size="62.00" text-anchor="start">(µg/mL)</text>
<text transform="translate(887.02,2354.60) scale(0.9883,1.0325)" font-family="'Liberation Sans', Arial, sans-serif" font-weight="bold" font-size="64.00" text-anchor="start">SEA</text>
<text transform="translate(1302.08,2354.60) scale(0.9640,1.0325)" font-family="'Liberation Sans', Arial, sans-serif" font-weight="bold" font-size="64.00" text-anchor="start">SEIJ<tspan font-family="&apos;Liberation Serif&apos;, &apos;Times New Roman&apos;, serif" font-weight="normal">Δ</tspan>C</text>
<text transform="translate(1791.83,2354.60) scale(0.9923,1.0325)" font-family="'Liberation Sans', Arial, sans-serif" font-weight="bold" font-size="64.00" text-anchor="start">BSA</text>
<text transform="translate(301.00,2145.25) rotate(-90) scale(1.0000,0.9925)" font-family="'Liberation Sans', Arial, sans-serif" font-weight="bold" font-size="73.53" text-anchor="start">IFN-<tspan font-family="&apos;Liberation Serif&apos;, &apos;Times New Roman&apos;, serif" font-weight="normal">γ</tspan> production (pg/mL)</text>
</svg>
</body></html>
